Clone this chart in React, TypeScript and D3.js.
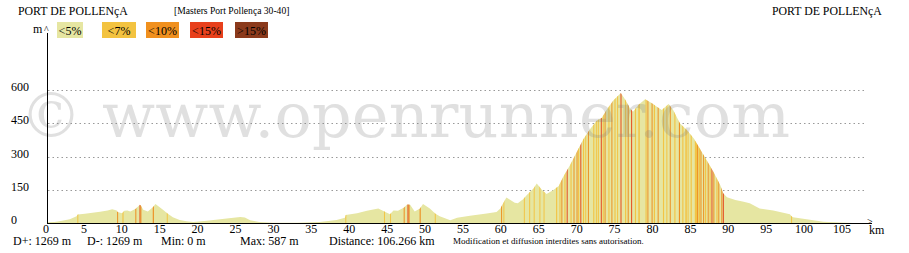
import React from 'react';
import * as d3 from 'd3';

const distKm = [0, 1, 2, 3, 3.9, 4.05, 5, 6, 7, 8, 8.6, 9.2, 9.3, 9.9, 10.2, 10.6, 11, 11.7, 12.25, 12.4, 12.7, 13.3, 14.0, 14.3, 15.3, 15.85, 16.6, 17.5, 18.4, 19.3, 21.1, 23.7, 25.5, 26.1, 26.8, 28, 29.8, 33, 36, 38.2, 39.3, 39.4, 40.9, 42.2, 43.7, 44.5, 45.25, 45.7, 46.3, 47.1, 47.5, 47.9, 48.5, 49.2, 49.6, 50.5, 51.2, 51.8, 53.2, 54.1, 55.8, 58, 59.3, 59.8, 60.1, 60.6, 61.7, 62.1, 62.8, 63.3, 64.2, 64.6, 65.3, 65.9, 66.8, 67.5, 68.1, 69, 69.9, 70.75, 71.6, 72.5, 73.2, 73.8, 74.7, 75.7, 76.3, 76.9, 77.3, 78, 78.9, 79.8, 80.4, 81.1, 82, 82.6, 83.5, 84.4, 85.3, 86.1, 87, 87.9, 88.8, 89.2, 89.7, 90.8, 91.9, 92.7, 94, 95.8, 98, 98.2, 98.4, 100.2, 102.4, 104.6, 106.27];
const elevM = [3, 4, 10, 17, 30, 38, 42, 46, 51, 57, 62, 57, 50, 44, 55, 57, 52, 64, 82, 78, 60, 52, 72, 86, 60, 44, 26, 14, 8, 4, 10, 20, 27, 25, 12, 4, 1, 1, 5, 13, 24, 36, 44, 55, 66, 52, 40, 57, 55, 70, 84, 82, 52, 66, 86, 66, 43, 30, 12, 24, 33, 43, 50, 66, 85, 115, 92, 89, 107, 126, 157, 179, 149, 131, 149, 167, 209, 262, 322, 378, 423, 462, 476, 511, 553, 587, 556, 518, 503, 533, 559, 541, 526, 511, 538, 511, 450, 420, 383, 337, 285, 232, 172, 134, 116, 104, 96, 89, 66, 56, 39, 30, 26, 17, 6, 2, 0];

// [start km, end km, slope class index]
const slopeStripes: [number, number, number][] = [
  [4.0, 4.12, 1], [9.25, 9.35, 2], [9.95, 10.1, 1], [11.65, 11.78, 2], [12.2, 12.32, 3], [12.32, 12.45, 2],
  [13.95, 14.1, 2], [15.8, 15.92, 1], [39.35, 39.47, 1], [44.45, 44.55, 1], [45.25, 45.37, 1],
  [47.05, 47.17, 2], [47.55, 47.7, 3], [47.7, 47.8, 2], [49.15, 49.3, 2], [51.15, 51.27, 1],
  [59.9, 60.02, 2], [60.2, 60.3, 1], [62.9, 63.02, 1], [63.6, 63.72, 1], [64.2, 64.32, 1], [64.95, 65.07, 1],
  [65.5, 65.6, 1], [67.15, 67.3, 1], [67.6, 67.72, 1], [67.85, 67.97, 2], [68.25, 68.4, 1], [68.55, 68.67, 3],
  [69.05, 69.2, 1], [69.45, 69.57, 2], [69.85, 69.97, 2], [70.05, 70.2, 1], [70.35, 70.47, 3], [70.7, 70.85, 1],
  [71.0, 71.1, 1], [71.35, 71.47, 2], [72.05, 72.2, 1], [72.4, 72.52, 1], [72.65, 72.8, 1], [73.05, 73.17, 3],
  [73.3, 73.45, 1], [73.55, 73.67, 2], [74.05, 74.2, 1], [74.45, 74.57, 2], [74.85, 75.0, 1], [75.2, 75.3, 1],
  [75.65, 75.77, 3], [76.25, 76.4, 1], [76.6, 76.72, 2], [77.05, 77.17, 3], [77.55, 77.7, 1], [78.0, 78.2, 1],
  [78.95, 79.1, 1], [79.2, 79.3, 2], [79.75, 79.87, 2], [80.05, 80.2, 1], [80.55, 80.67, 2], [81.25, 81.4, 1],
  [81.7, 81.8, 1], [82.15, 82.27, 2], [82.75, 82.9, 1], [83.35, 83.5, 2], [83.8, 83.95, 1], [84.2, 84.4, 1],
  [84.5, 84.62, 1], [84.9, 85.05, 1], [85.45, 85.75, 1], [85.75, 85.9, 2], [85.95, 86.15, 1], [86.2, 86.32, 2],
  [86.55, 86.67, 2], [86.8, 86.95, 1], [87.15, 87.27, 2], [87.4, 87.5, 1], [87.65, 87.77, 3], [87.9, 88.02, 2],
  [88.3, 88.45, 1], [88.55, 88.67, 2], [88.95, 89.07, 2], [89.15, 89.27, 3], [98.15, 98.25, 1],
];

const xTicks = [0, 5, 10, 15, 20, 25, 30, 35, 40, 45, 50, 55, 60, 65, 70, 75, 80, 85, 90, 95, 100, 105];
const yTicks = [0, 150, 300, 450, 600];
const legendLabels = ['<5%', '<7%', '<10%', '<15%', '>15%'];
const legendColors = ['#e6e6a2', '#f3c340', '#f0901e', '#e8401c', '#8b3a1c'];
const stripeColors = ['#e6e6a2', '#f2c445', '#ec8f22', '#e4491f', '#8b3a1c'];
const statTexts = ['D+: 1269 m', 'D-: 1269 m', 'Min: 0 m', 'Max: 587 m', 'Distance: 106.266 km'];
const statX = [13, 87, 161, 240, 329];
const legendX = [57, 102, 146, 190, 235];
const legendW = [26, 34, 33, 33, 33];

export default function App() {
  const x = d3.scaleLinear().domain([0, 105]).range([47, 843]);
  const y = d3.scaleLinear().domain([0, 600]).range([223, 90.2]);
  const pts: [number, number][] = distKm.map((d, i) => [d, elevM[i]]);
  const area = d3
    .area<[number, number]>()
    .x((d) => x(d[0]))
    .y0(y(0))
    .y1((d) => y(d[1]));
  const areaPath = area(pts) || '';

  return (
    <svg
      width={909}
      height={253}
      style={{ position: 'absolute', left: 0, top: 0, background: '#fff' }}
      fontFamily="'Liberation Serif', 'Times New Roman', serif"
    >
      <rect x={0} y={0} width={909} height={253} fill="#fff" />
      <defs>
        <clipPath id="prof">
          <path d={areaPath} />
        </clipPath>
      </defs>

      {/* titles */}
      <text x={18} y={15} fontSize={11.8}>PORT DE POLLENçA</text>
      <text x={174} y={14} fontSize={9.6}>[Masters Port Pollença 30-40]</text>
      <text x={772} y={15} fontSize={11.8}>PORT DE POLLENçA</text>

      {/* legend */}
      <text x={33} y={33} fontSize={12}>m</text>
      <text x={44} y={33} fontSize={10}>^</text>
      {legendLabels.map((l, i) => (
        <g key={l}>
          <rect x={legendX[i]} y={22} width={legendW[i]} height={16} fill={legendColors[i]} />
          <text x={legendX[i] + legendW[i] / 2} y={35} fontSize={12} textAnchor="middle">{l}</text>
        </g>
      ))}

      {/* grid */}
      {yTicks.filter((t) => t > 0).map((t) => (
        <line key={t} x1={48} x2={867} y1={Math.round(y(t)) + 0.5} y2={Math.round(y(t)) + 0.5}
          stroke="#999" strokeDasharray="1.5,3" />
      ))}

      {/* profile */}
      <path d={areaPath} fill={stripeColors[0]} />
      <g clipPath="url(#prof)">
        {slopeStripes.map(([a, b, c], i) => (
          <rect key={i} x={x(a)} width={Math.max(1, x(b) - x(a))} y={80} height={150} fill={stripeColors[c]} />
        ))}
      </g>

      {/* watermark */}
      <text x={20} y={137} fontSize={62} fontFamily="'DejaVu Serif', serif" fill="#808080" opacity={0.24}
        textLength={770} lengthAdjust="spacing">© www.openrunner.com</text>

      {/* axes */}
      <line x1={47.5} x2={47.5} y1={33} y2={223.5} stroke="#000" />
      <line x1={47} x2={872} y1={223.5} y2={223.5} stroke="#000" />
      <text x={867} y={225} fontSize={10}>&gt;</text>
      <text x={869} y={234} fontSize={12}>km</text>

      {yTicks.map((t) => (
        <text key={t} x={11} y={y(t) + 1} fontSize={12}>{t}</text>
      ))}
      {xTicks.map((t) => (
        <text key={t} x={x(t) - 1} y={233} fontSize={12} textAnchor="middle">{t}</text>
      ))}

      {statTexts.map((s, i) => (
        <text key={s} x={statX[i]} y={245} fontSize={12}>{s}</text>
      ))}
      <text x={453} y={244} fontSize={9}>Modification et diffusion interdites sans autorisation.</text>
    </svg>
  );
}
